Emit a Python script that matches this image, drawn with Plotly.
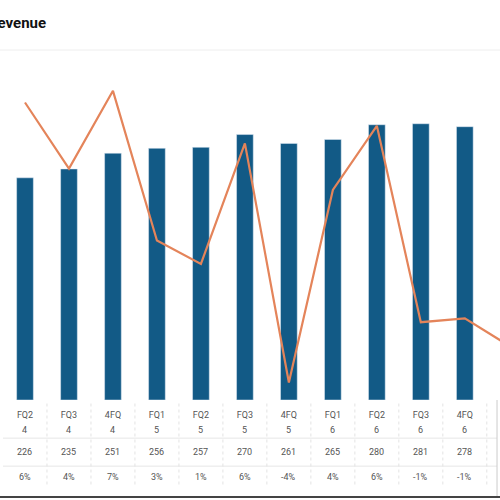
import plotly.graph_objects as go

# Data
quarters = ['FQ2', 'FQ3', '4FQ', 'FQ1', 'FQ2', 'FQ3', '4FQ', 'FQ1', 'FQ2', 'FQ3', '4FQ', 'FQ1']
years = ['4', '4', '4', '5', '5', '5', '5', '6', '6', '6', '6', '7']
revenue = [226, 235, 251, 256, 257, 270, 261, 265, 280, 281, 278, None]
growth_labels = ['6%', '4%', '7%', '3%', '1%', '6%', '-4%', '4%', '6%', '-1%', '-1%', '']
growth_line = [9.3, 5.9, 9.9, 2.2, 1.0, 7.2, -5.1, 4.8, 8.1, -2.0, -1.8, -3.2]

bar_color = '#125a86'
line_color = '#e4845a'
text_color = '#555555'

x_pos = list(range(len(quarters)))

fig = go.Figure()

fig.add_trace(go.Bar(x=x_pos, y=revenue, marker=dict(color=bar_color),
                     width=0.38, name='Revenue'))

fig.add_trace(go.Scatter(x=x_pos, y=growth_line, mode='lines',
                         line=dict(color=line_color, width=2.2),
                         yaxis='y2', name='Growth'))

# Table rows under the chart
for i in range(len(revenue)):
    if revenue[i] is None:
        continue
    fig.add_annotation(x=i, y=-0.086, xref='x', yref='paper', text=years[i], yanchor='middle',
                       showarrow=False, font=dict(size=9, color=text_color))
    fig.add_annotation(x=i, y=-0.149, xref='x', yref='paper', text=str(revenue[i]), yanchor='middle',
                       showarrow=False, font=dict(size=9, color=text_color))
    fig.add_annotation(x=i, y=-0.22, xref='x', yref='paper', text=growth_labels[i], yanchor='middle',
                       showarrow=False, font=dict(size=9, color=text_color))

# Table grid lines
for yy in [-0.109, -0.189]:
    fig.add_shape(type='line', xref='paper', yref='paper', x0=0, x1=0.994, y0=yy, y1=yy,
                  line=dict(color='#e6e6e6', width=1))
for i in range(len(revenue) - 1):
    fig.add_shape(type='line', xref='x', yref='paper', x0=i + 0.5, x1=i + 0.5,
                  y0=-0.01, y1=-0.25, line=dict(color='#e3e3e3', width=1, dash='dot'))
fig.add_shape(type='line', xref='paper', yref='paper', x0=0.994, x1=0.994, y0=0, y1=-0.277,
              line=dict(color='#cccccc', width=1))
fig.add_shape(type='line', xref='paper', yref='paper', x0=-0.01, x1=1, y0=-0.277, y1=-0.277,
              line=dict(color='#444444', width=2))
fig.add_shape(type='line', xref='paper', yref='paper', x0=-0.01, x1=1, y0=1.0, y1=1.0,
              line=dict(color='#eeeeee', width=1))

fig.add_annotation(x=-0.035, y=1.077, xref='paper', yref='paper', text='<b>Revenue</b>',
                   showarrow=False, xanchor='left', yanchor='middle',
                   font=dict(size=15, color='#111111'))

fig.update_layout(
    width=500, height=500,
    margin=dict(l=3, r=0, t=50, b=100),
    paper_bgcolor='white', plot_bgcolor='white',
    showlegend=False,
    font=dict(family='Roboto'),
    xaxis=dict(range=[-0.5, 10.8], tickmode='array', tickvals=x_pos,
               ticktext=quarters, ticklabelstandoff=8,
               tickfont=dict(size=9, color=text_color), showgrid=False,
               zeroline=False, showline=False, ticks=''),
    yaxis=dict(range=[0, 356], visible=False, showgrid=False),
    yaxis2=dict(range=[-6, 12], overlaying='y', visible=False, showgrid=False),
)

fig.write_html('out.html', config={'displayModeBar': False},
               post_script="document.body.style.margin='0';")
